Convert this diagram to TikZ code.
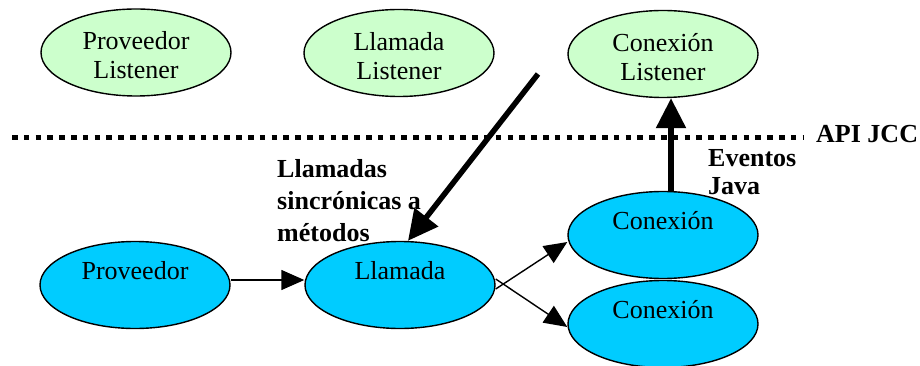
\documentclass[tikz,border=0pt]{standalone}
\usepackage{fontspec}
\setmainfont{Liberation Serif}
\usetikzlibrary{shapes.geometric,arrows.meta}

\definecolor{listenerfill}{HTML}{CCFFCC}
\definecolor{objfill}{HTML}{00CCFF}

% one line of text, baseline set above the ellipse centre
\newcommand{\oneline}[1]{\raisebox{0pt}[6pt][18pt]{#1}}
% two lines of text, first baseline just above the ellipse centre
\newcommand{\twolines}[2]{\raisebox{0pt}[20pt][25pt]{\begin{tabular}[t]{@{}c@{}}#1\\#2\end{tabular}}}

\tikzset{
  base font/.style={font=\fontsize{26}{29}\selectfont},
  oval/.style={ellipse, draw=black, line width=1.4pt, inner sep=0pt,
    minimum width=190pt, minimum height=87pt, base font},
  listener/.style={oval, fill=listenerfill},
  jccobj/.style={oval, fill=objfill},
  note/.style={inner sep=0pt, anchor=base west, font=\bfseries\fontsize{26}{29}\selectfont},
  thin arrow/.style={line width=1.4pt, -{Triangle[length=23pt,width=20pt]}},
  heavy arrow/.style={line width=5.5pt, -{Triangle[length=30pt,width=29pt]}},
  api line/.style={line width=5pt, dash pattern=on 5.5pt off 6.3pt}
}

\begin{document}
\begin{tikzpicture}[x=1pt, y=-1pt]
  \fill[white] (0,0) rectangle (920,366);
  \useasboundingbox (0,0) rectangle (920,366);

  % listeners above the API boundary
  \node[listener] (provL) at (136,52.5) {\twolines{Proveedor}{Listener}};
  \node[listener] (llamL) at (399,53)   {\twolines{Llamada}{Listener}};
  \node[listener] (connL) at (663,54)   {\twolines{Conexión}{Listener}};

  % JCC objects
  \node[jccobj] (prov)  at (135,285) {\oneline{Proveedor}};
  \node[jccobj] (llam)  at (400,285) {\oneline{Llamada}};
  \node[jccobj] (conn1) at (663,235) {\oneline{Conexión}};
  \node[jccobj] (conn2) at (663,324) {\oneline{Conexión}};

  % API boundary
  \coordinate (apiL) at (12,138);
  \coordinate (apiR) at (803,138);
  \draw[api line] (apiL) -- (apiR);
  \node[note] (api) at (816,143) {API JCC};

  % labels
  \node[note] (calls) at (277,178)
    {\begin{tabular}[t]{@{}l@{}}Llamadas\\[2.5pt]sincrónicas a\\[2.5pt]métodos\end{tabular}};
  \node[note] (events) at (708,167)
    {\begin{tabular}[t]{@{}l@{}}Eventos\\[-1pt]Java\end{tabular}};

  % object relations
  \draw[thin arrow] ([yshift=5pt]prov.east) -- ([yshift=5pt]llam.west);
  \draw[thin arrow] ([yshift=-4pt]llam.east) -- ([yshift=-7pt]conn1.west);
  \draw[thin arrow] ([yshift=6pt]llam.east) -- ([yshift=-3pt]conn2.west);

  % synchronous calls and events
  \coordinate (callsrc) at (538,74);
  \draw[heavy arrow] (callsrc) -- ([xshift=8pt]llam.north);
  \draw[heavy arrow] ([xshift=8pt]conn1.north) -- ([xshift=8pt]connL.south);
\end{tikzpicture}
\end{document}
